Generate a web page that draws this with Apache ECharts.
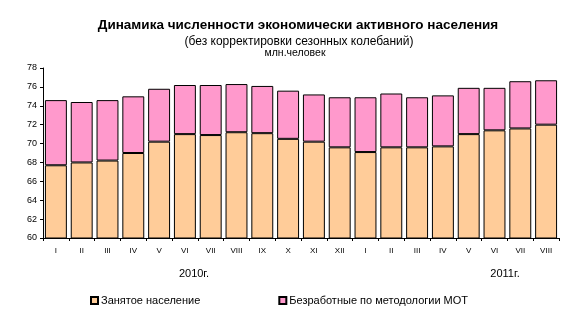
<!DOCTYPE html>
<html><head><meta charset="utf-8">
<script src="https://cdn.jsdelivr.net/npm/echarts@6/dist/echarts.min.js"></script>
<style>html,body{margin:0;padding:0;background:#fff}#c{width:574px;height:327px}</style>
</head><body><div id="c"></div>
<script>
const categories = ['I','II','III','IV','V','VI','VII','VIII','IX','X','XI','XII','I','II','III','IV','V','VI','VII','VIII'];
const employed = [67.7,68.0,68.2,69.0,70.2,71.0,70.9,71.2,71.1,70.5,70.2,69.6,69.1,69.6,69.6,69.7,71.0,71.4,71.6,72.0];
const totals   = [74.6,74.4,74.6,75.0,75.8,76.2,76.2,76.3,76.1,75.6,75.2,74.9,74.9,75.3,74.9,75.1,75.9,75.9,76.6,76.7];
const unemployed = totals.map((t,i)=>+(t-employed[i]).toFixed(1));
const seriesNames = ['Занятое население','Безработные по методологии МОТ'];
const yearLabels = ['2010г.','2011г.'];
const titleText = 'Динамика численности экономически активного населения';
const subtitleText = '(без корректировки сезонных колебаний)';
const unitText = 'млн.человек';
const yTicks = {min:60,max:78,interval:2};

const font = 'Liberation Sans, Arial, sans-serif';
function txt(text,x,y,size,weight){
  return {type:'text',x:x,y:y,style:{text:text,fill:'#000',font:(weight||'normal')+' '+size+'px '+font,
    textAlign:'center',textVerticalAlign:'middle'}};
}
const chart = echarts.init(document.getElementById('c'));
chart.setOption({
  animation:false,
  backgroundColor:'#fff',
  graphic:[
    txt(titleText,298,25,13.5,'bold'),
    txt(subtitleText,299,42,12),
    txt(unitText,295,53,10.5),
    txt(yearLabels[0],194,274,11),
    txt(yearLabels[1],505,274,11)
  ],
  legend:{
    left:85,top:290,itemWidth:7,itemHeight:7,itemGap:78,icon:'rect',
    textStyle:{fontFamily:font,fontSize:11,color:'#000',padding:[0,0,0,-2]},
    data:seriesNames
  },
  grid:{left:43,right:15,top:68,bottom:89},
  xAxis:{type:'category',data:categories,
    axisLine:{lineStyle:{color:'#000',width:1}},
    axisTick:{show:true,length:3,lineStyle:{color:'#000'},alignWithLabel:false},
    axisLabel:{color:'#000',fontFamily:font,fontSize:8,margin:9}},
  yAxis:{type:'value',min:yTicks.min,max:yTicks.max,interval:yTicks.interval,
    axisLine:{show:true,lineStyle:{color:'#000'}},
    axisTick:{show:true,length:3,lineStyle:{color:'#000'}},
    splitLine:{show:false},
    axisLabel:{color:'#000',fontFamily:font,fontSize:9,margin:6}},
  series:[
    {name:seriesNames[0],type:'bar',stack:'a',data:employed,barCategoryGap:'15%',
     itemStyle:{color:'#FFCC99',borderColor:'#000',borderWidth:1}},
    {name:seriesNames[1],type:'bar',stack:'a',data:unemployed,barCategoryGap:'15%',
     itemStyle:{color:'#FF99CC',borderColor:'#000',borderWidth:1}}
  ]
});
</script></body></html>
